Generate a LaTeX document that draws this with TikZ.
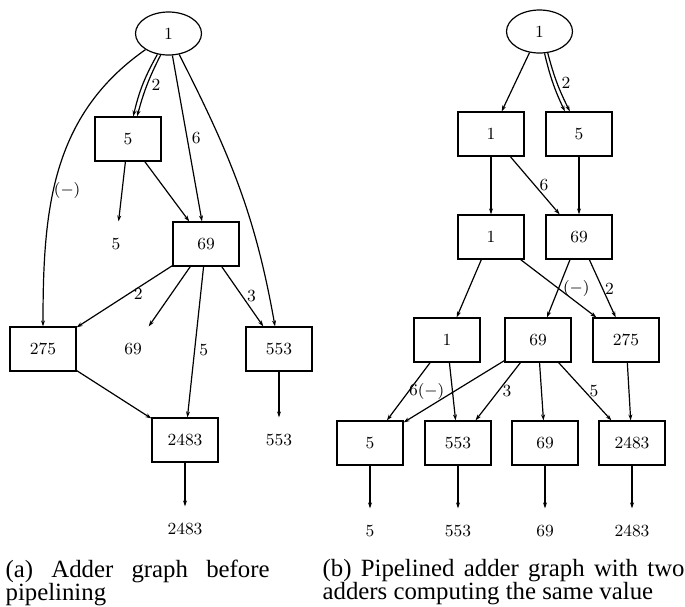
\documentclass[tikz,border=0pt]{standalone}
\usepackage{fontspec}
\newfontfamily\capfont{Liberation Serif}
\usetikzlibrary{shapes.geometric,arrows.meta}
\hyphenpenalty=10000
\begin{document}
\begin{tikzpicture}[x=0.5pt,y=-0.5pt,line width=0.6pt,
  font=\fontsize{8.5}{10}\selectfont,
  src/.style={draw,ellipse,minimum width=33pt,minimum height=21.5pt,inner sep=0pt},
  adder/.style={draw,rectangle,minimum width=33pt,minimum height=22pt,inner sep=0pt},
  outval/.style={rectangle,minimum width=33pt,minimum height=22pt,inner sep=0pt},
  arr/.style={-{Stealth[length=3pt,width=2pt]}},
  lbl/.style={inner sep=2pt},
  captext/.style={font=\capfont\fontsize{12.4}{11.5}\selectfont,text width=#1,align=justify,inner sep=0pt,anchor=north west}]
\useasboundingbox (0,0) rectangle (685,606);
% (a) before pipelining
\node[src] (la1) at (168.5,33.5) {1};
\node[adder] (la5) at (128,139) {5};
\node[outval] (lo5) at (116,244) {5};
\node[adder] (la69) at (206,244) {69};
\node[adder] (la275) at (43,349) {275};
\node[outval] (lo69) at (133,349) {69};
\node[adder] (la553) at (279,349) {553};
\node[adder] (la2483) at (185,440) {2483};
\node[outval] (lo553) at (279,440) {553};
\node[outval] (lo2483) at (185,529) {2483};
\draw[arr] (la1) to[out=215,in=90] node[pos=.575,right,inner sep=0pt] {$(-)$} (la275);
\draw[arr] (la1.242) to[bend right=8] (la5.77);
\draw[arr] (la1.250) to[bend right=6] node[lbl,right] {2} (la5.68);
\draw[arr] (la1) -- node[lbl,right] {6} (la69);
\draw[arr] (la1) to[out=-63,in=100] (la553);
\draw[arr] (la5) -- (lo5);
\draw[arr] (la5) -- (la69);
\draw[arr] (la69) -- node[lbl,pos=.45,right] {2} (la275);
\draw[arr] (la69) -- (lo69);
\draw[arr] (la69) -- node[lbl,pos=.55,right] {5} (la2483);
\draw[arr] (la69) -- node[lbl,right] {3} (la553);
\draw[arr] (la275) -- (la2483);
\draw[arr] (la553) -- (lo553);
\draw[arr] (la2483) -- (lo2483);
% (b) pipelined
\node[src] (rb1) at (539.5,31.5) {1};
\node[adder] (ra1) at (491,134) {1};
\node[adder] (ra5) at (579,134) {5};
\node[adder] (rb1b) at (491,237) {1};
\node[adder] (rb69) at (579,237) {69};
\node[adder] (rc1) at (447,340) {1};
\node[adder] (rc69) at (538,340) {69};
\node[adder] (rc275) at (626,340) {275};
\foreach \v/\x in {5/370,553/458,69/545,2483/632}{
  \node[adder] (rd\v) at (\x,443) {\v};
  \node[outval] (ro\v) at (\x,531) {\v};
  \draw[arr] (rd\v) -- (ro\v);
}
\draw[arr] (rb1) -- (ra1);
\draw[arr] (rb1.283) to[bend right=6] (ra5.122);
\draw[arr] (rb1.291) to[bend right=6] node[lbl,right] {2} (ra5.112);
\draw[arr] (ra1) -- (rb1b);
\draw[arr] (ra1) -- node[lbl,right] {6} (rb69);
\draw[arr] (ra5) -- (rb69);
\draw[arr] (rb1b) -- (rc1);
\draw[arr] (rb1b) -- node[lbl,right] {$(-)$} (rc275);
\draw[arr] (rb69) -- (rc69);
\draw[arr] (rb69) -- node[lbl,inner sep=1pt,right] {2} (rc275);
\draw[arr] (rc1) -- node[lbl,inner sep=0pt,right] {6$(-)$} (rd5);
\draw[arr] (rc1) -- (rd553);
\draw[arr] (rc69) -- (rd5);
\draw[arr] (rc69) -- node[lbl,right] {3} (rd553);
\draw[arr] (rc69) -- (rd69);
\draw[arr] (rc69) -- node[lbl,right] {5} (rd2483);
\draw[arr] (rc275) -- (rd2483);
% captions
\node[captext=132pt] (capa) at (5,559) {(a) Adder graph before pipelining};
\node[captext=181pt] (capb) at (322,559) {(b) Pipelined adder graph with two adders computing the same value};
\end{tikzpicture}
\end{document}
